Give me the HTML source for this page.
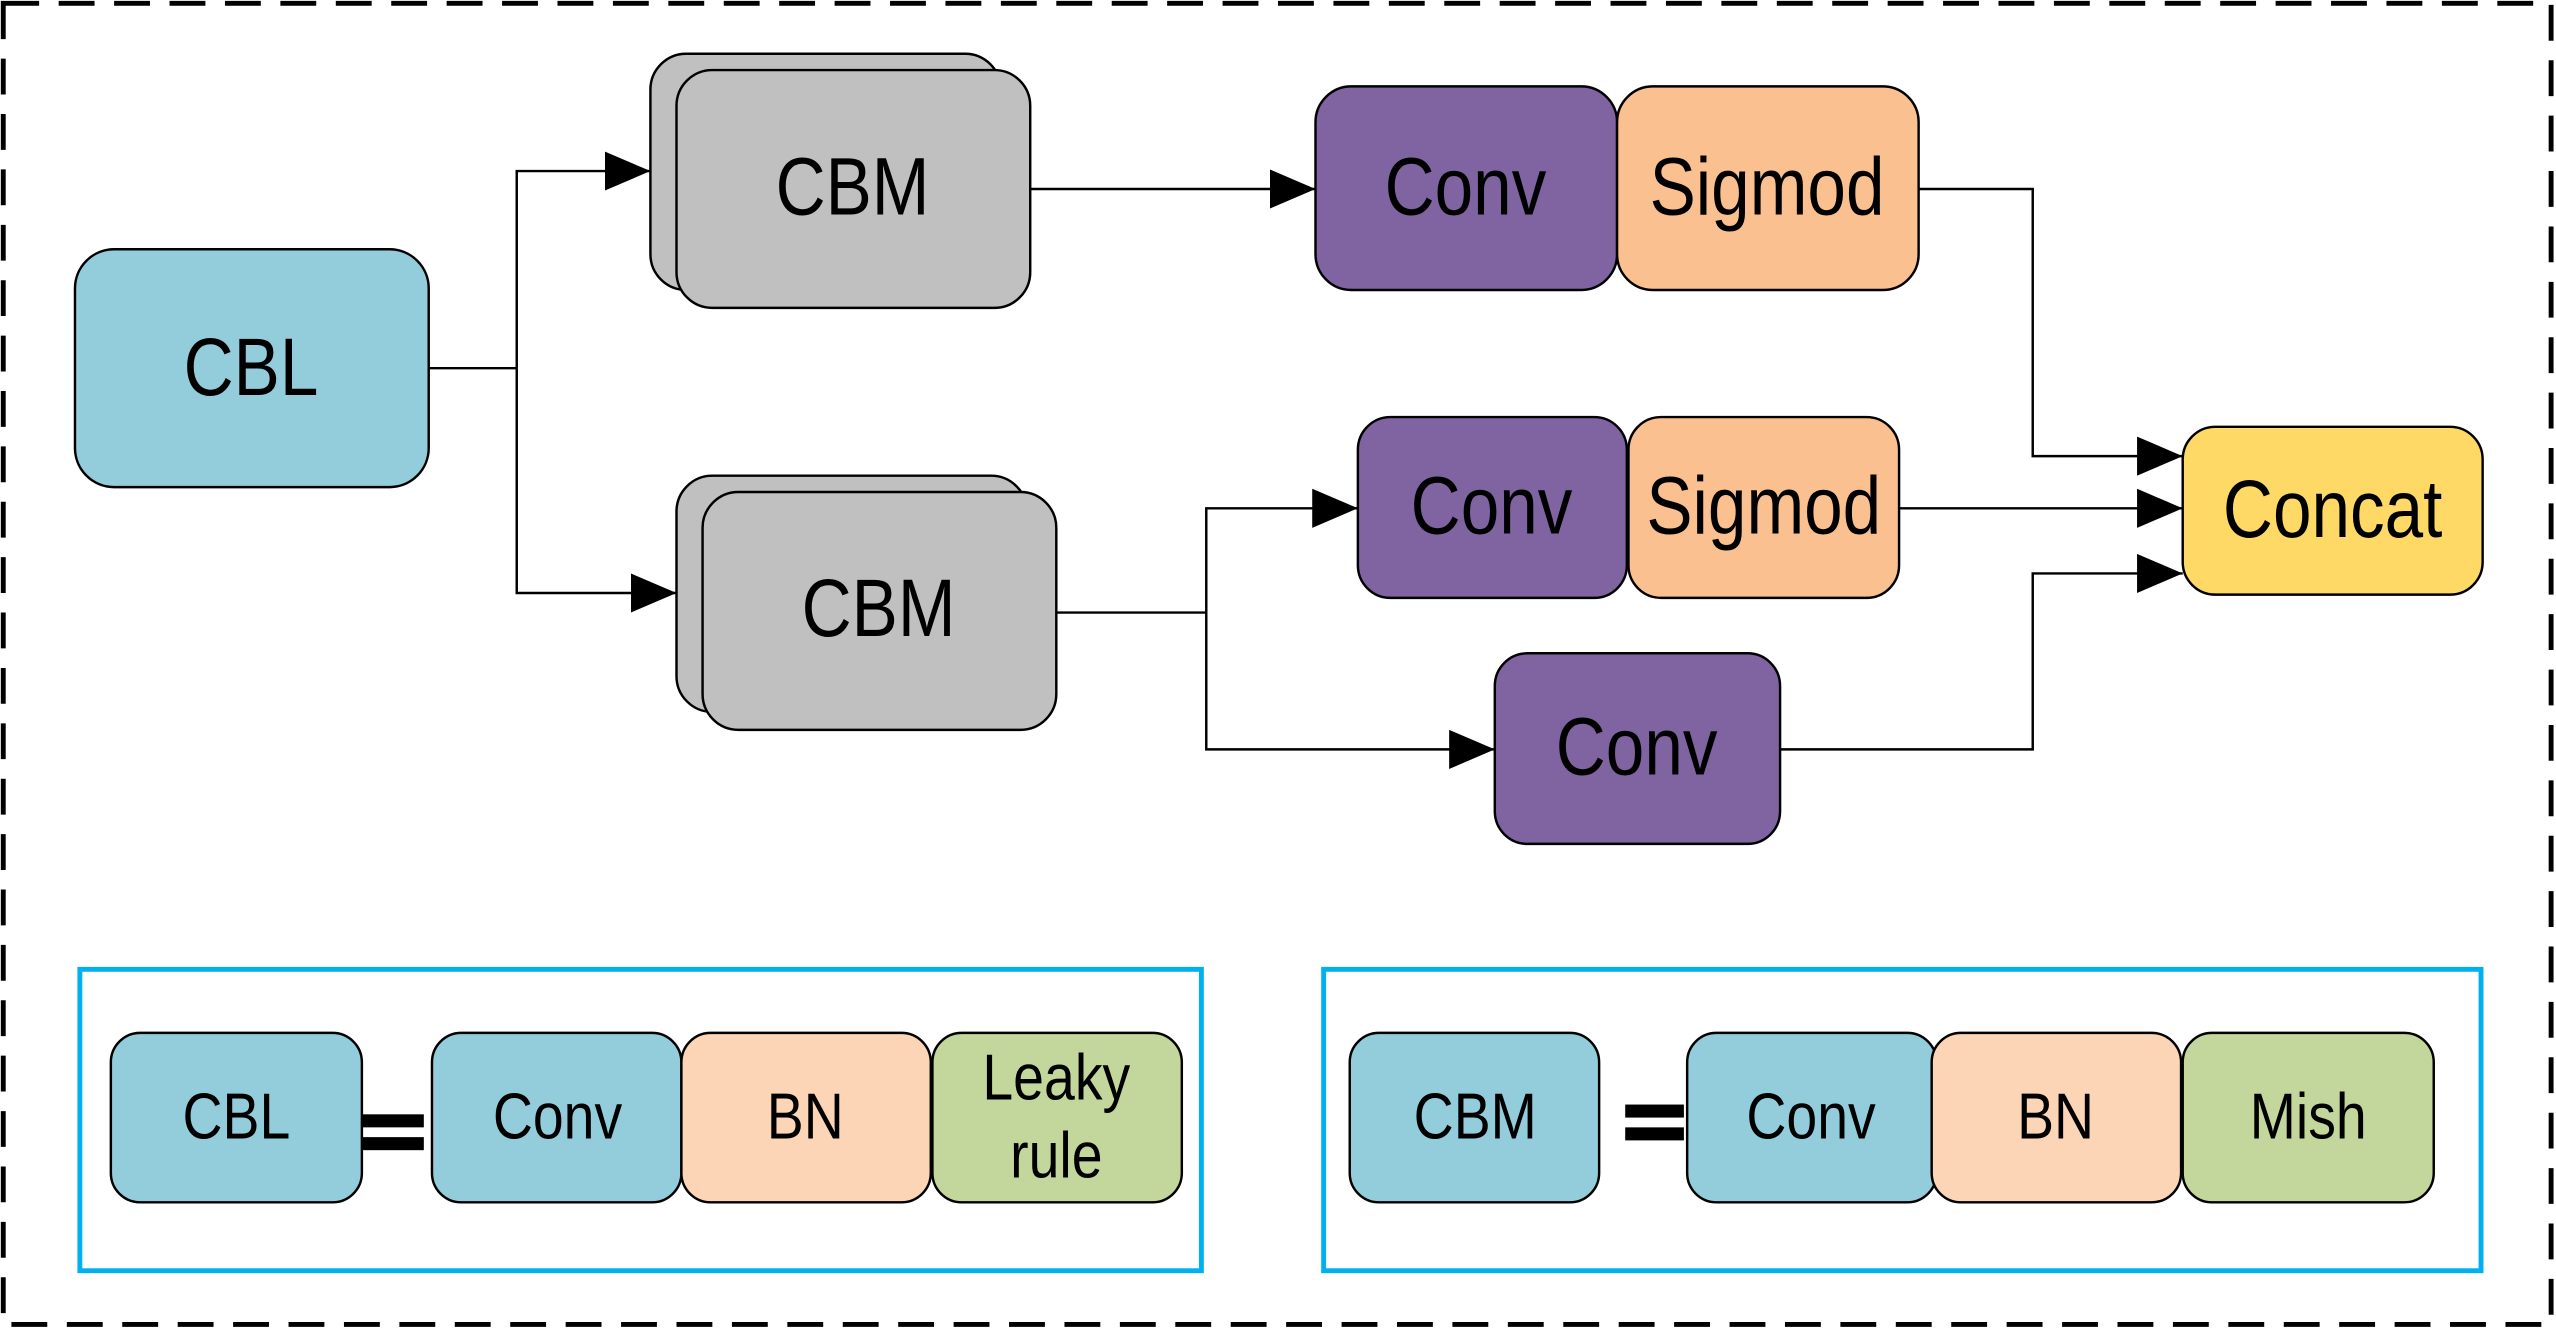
<!DOCTYPE html>
<html><head><meta charset="utf-8"><style>
html,body{margin:0;padding:0;background:#fff;}
svg{display:block;}
text{font-family:"Liberation Sans",sans-serif;text-anchor:middle;dominant-baseline:central;fill:#000;}
</style></head><body>
<svg width="2556" height="1331" viewBox="0 0 1568 817" preserveAspectRatio="none" xmlns="http://www.w3.org/2000/svg">
<defs>
<marker id="a" markerWidth="28" markerHeight="24" refX="28" refY="12" orient="auto" markerUnits="userSpaceOnUse">
<path d="M0,0 L28,12 L0,24 Z" fill="#000"/></marker>
</defs>
<rect x="2" y="2" width="1563" height="811" fill="none" stroke="#000" stroke-width="3" stroke-dasharray="22,12"/>
<g stroke="#000" stroke-width="1.5">
<rect x="46" y="153" width="217" height="146" rx="24" fill="#93cddb"/>
<rect x="399" y="33" width="215" height="145" rx="22" fill="#c0c0c0"/>
<rect x="415" y="43" width="217" height="146" rx="22" fill="#c0c0c0"/>
<rect x="415" y="292" width="215" height="145" rx="22" fill="#c0c0c0"/>
<rect x="431" y="302" width="217" height="146" rx="22" fill="#c0c0c0"/>
<rect x="807" y="53" width="185" height="125" rx="22" fill="#8064a2"/>
<rect x="992" y="53" width="185" height="125" rx="22" fill="#fac090"/>
<rect x="833" y="256" width="165" height="111" rx="20" fill="#8064a2"/>
<rect x="999" y="256" width="166" height="111" rx="20" fill="#fac090"/>
<rect x="917" y="401" width="175" height="117" rx="20" fill="#8064a2"/>
<rect x="1339" y="262" width="184" height="103" rx="20" fill="#ffd966"/>
</g>
<g stroke="#000" stroke-width="1.5" fill="none">
<polyline points="263,226 317,226"/>
<polyline points="317,226 317,105 399,105" marker-end="url(#a)"/>
<polyline points="317,226 317,364 415,364" marker-end="url(#a)"/>
<polyline points="632,116 807,116" marker-end="url(#a)"/>
<polyline points="648,376 740,376"/>
<polyline points="740,376 740,312 833,312" marker-end="url(#a)"/>
<polyline points="740,376 740,460 917,460" marker-end="url(#a)"/>
<polyline points="1177,116 1247,116 1247,280 1339,280" marker-end="url(#a)"/>
<polyline points="1165,312 1339,312" marker-end="url(#a)"/>
<polyline points="1092,460 1247,460 1247,352 1339,352" marker-end="url(#a)"/>
</g>
<g font-size="50">
<text transform="translate(154,226) scale(0.85,1)">CBL</text>
<text transform="translate(523,115) scale(0.85,1)">CBM</text>
<text transform="translate(539,374) scale(0.85,1)">CBM</text>
<text transform="translate(899,115) scale(0.85,1)">Conv</text>
<text transform="translate(1084,115) scale(0.85,1)">Sigmod</text>
<text transform="translate(915,311) scale(0.85,1)">Conv</text>
<text transform="translate(1082,311) scale(0.85,1)">Sigmod</text>
<text transform="translate(1004,459) scale(0.85,1)">Conv</text>
<text transform="translate(1431,313) scale(0.85,1)">Concat</text>
</g>
<g fill="none" stroke="#00b0f0" stroke-width="3">
<rect x="49" y="595" width="688" height="185"/>
<rect x="812" y="595" width="710" height="185"/>
</g>
<g stroke="#000" stroke-width="1.5">
<rect x="68" y="634" width="154" height="104" rx="18" fill="#93cddb"/>
<rect x="265" y="634" width="153" height="104" rx="18" fill="#93cddb"/>
<rect x="418" y="634" width="153" height="104" rx="18" fill="#fbd5b5"/>
<rect x="572" y="634" width="153" height="104" rx="18" fill="#c3d69b"/>
<rect x="828" y="634" width="153" height="104" rx="18" fill="#93cddb"/>
<rect x="1035" y="634" width="153" height="104" rx="18" fill="#93cddb"/>
<rect x="1185" y="634" width="153" height="104" rx="18" fill="#fbd5b5"/>
<rect x="1339" y="634" width="154" height="104" rx="18" fill="#c3d69b"/>
</g>
<g fill="#000">
<rect x="222" y="684" width="38" height="8"/><rect x="222" y="698" width="38" height="8"/>
<rect x="997" y="678" width="36" height="8"/><rect x="997" y="692" width="36" height="8"/>
</g>
<g font-size="40">
<text transform="translate(145,685) scale(0.85,1)">CBL</text>
<text transform="translate(342,685) scale(0.85,1)">Conv</text>
<text transform="translate(494,685) scale(0.85,1)">BN</text>
<text transform="translate(648,661) scale(0.85,1)">Leaky</text>
<text transform="translate(648,709) scale(0.85,1)">rule</text>
<text transform="translate(905,685) scale(0.85,1)">CBM</text>
<text transform="translate(1111,685) scale(0.85,1)">Conv</text>
<text transform="translate(1261,685) scale(0.85,1)">BN</text>
<text transform="translate(1416,685) scale(0.85,1)">Mish</text>
</g>
</svg>
</body></html>
